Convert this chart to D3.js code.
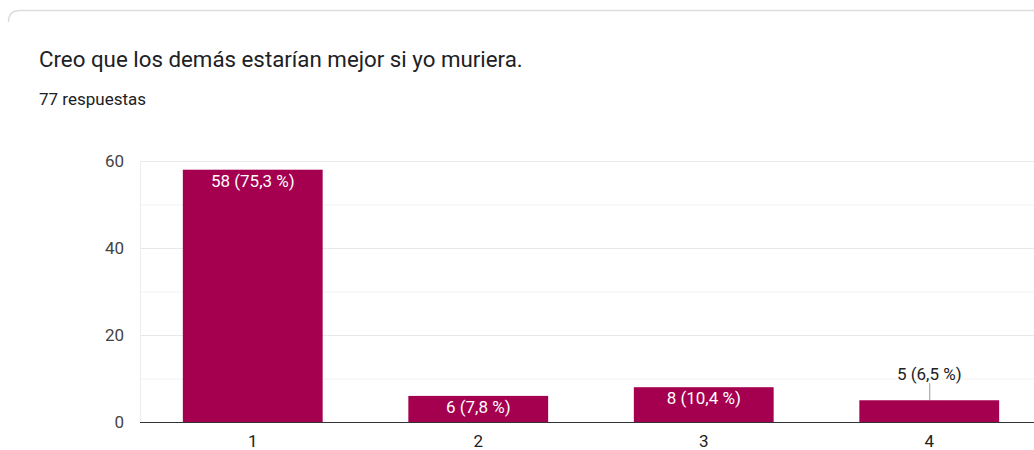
<!DOCTYPE html>
<html>
<head>
<meta charset="utf-8">
<script src="https://cdn.jsdelivr.net/npm/d3@7"></script>
<style>
  body { margin: 0; background: #fff; overflow: hidden; }
  svg { display: block; font-family: Roboto, Arial, sans-serif; }
</style>
</head>
<body>
<div id="chart"></div>
<script>
// Chart data.
const categories = ["1", "2", "3", "4"];
const counts = [58, 6, 8, 5];
const percents = ["75,3", "7,8", "10,4", "6,5"];
const yTicks = [0, 20, 40, 60];
const totalAnswers = 77;

const winW = 1034;
const winH = 450;
const barColor = "#a50050";
const fontSize = 17;

const svg = d3.select("#chart").append("svg")
  .attr("width", winW)
  .attr("height", winH);

// Card outline (top edge with rounded corner).
svg.append("path")
  .attr("d", "M8.5,22 Q8.5,10.5 20,10.5 L1040,10.5")
  .attr("fill", "none")
  .attr("stroke", "#dadce0")
  .attr("stroke-width", 1.5);

svg.append("text")
  .attr("x", 39)
  .attr("y", 67)
  .attr("font-size", 22.3)
  .attr("fill", "#202124")
  .text("Creo que los demás estarían mejor si yo muriera.");

svg.append("text")
  .attr("x", 39)
  .attr("y", 105)
  .attr("font-size", fontSize)
  .attr("fill", "#202124")
  .text(totalAnswers + " respuestas");

const x = d3.scaleBand()
  .domain(categories)
  .range([140, 1042])
  .paddingInner(0.38)
  .paddingOuter(0.19);

const y = d3.scaleLinear()
  .domain([0, 60])
  .range([422, 161]);

// Minor gridlines every 10.
svg.append("g").selectAll("line")
  .data(d3.range(10, 61, 20))
  .join("line")
  .attr("x1", 140).attr("x2", winW)
  .attr("y1", d => y(d) + 0.5).attr("y2", d => y(d) + 0.5)
  .attr("stroke", "#f3f3f3");

// Major gridlines.
svg.append("g").selectAll("line")
  .data(yTicks.filter(d => d > 0))
  .join("line")
  .attr("x1", 140).attr("x2", winW)
  .attr("y1", d => y(d) + 0.5).attr("y2", d => y(d) + 0.5)
  .attr("stroke", "#e8e8e8");

// Left edge of plot.
svg.append("line")
  .attr("x1", 140.5).attr("x2", 140.5)
  .attr("y1", y(60)).attr("y2", y(0))
  .attr("stroke", "#ececec");

// Y axis labels.
const yAxis = d3.axisLeft(y).tickValues(yTicks).tickSize(0).tickPadding(16);
const yG = svg.append("g")
  .attr("transform", "translate(140,0)")
  .call(yAxis);
yG.select(".domain").remove();
yG.selectAll("text")
  .attr("font-size", fontSize)
  .attr("font-family", "Roboto, Arial, sans-serif")
  .attr("fill", "#444");

// Bars.
svg.append("g").selectAll("rect")
  .data(counts)
  .join("rect")
  .attr("x", (d, i) => x(categories[i]))
  .attr("y", d => y(d))
  .attr("width", x.bandwidth())
  .attr("height", d => y(0) - y(d))
  .attr("fill", barColor);

// Baseline.
svg.append("line")
  .attr("x1", 140).attr("x2", winW)
  .attr("y1", y(0) + 0.5).attr("y2", y(0) + 0.5)
  .attr("stroke", "#333")
  .attr("stroke-width", 1.2);

// X axis labels.
const xAxis = d3.axisBottom(x).tickSize(0).tickPadding(13);
const xG = svg.append("g")
  .attr("transform", "translate(0," + y(0) + ")")
  .call(xAxis);
xG.select(".domain").remove();
xG.selectAll("text")
  .attr("font-size", fontSize)
  .attr("font-family", "Roboto, Arial, sans-serif")
  .attr("fill", "#222");

// Value labels: inside bar if it fits, else above with a leader line.
counts.forEach((d, i) => {
  const cx = x(categories[i]) + x.bandwidth() / 2;
  const barH = y(0) - y(d);
  const label = d + " (" + percents[i] + " %)";
  if (barH >= 24) {
    svg.append("text")
      .attr("x", cx)
      .attr("y", y(d) + 17)
      .attr("text-anchor", "middle")
      .attr("font-size", fontSize)
      .attr("fill", "#fff")
      .text(label);
  } else {
    svg.append("line")
      .attr("x1", cx + 0.5).attr("x2", cx + 0.5)
      .attr("y1", y(d) - 17).attr("y2", y(d))
      .attr("stroke", "#999");
    svg.append("text")
      .attr("x", cx)
      .attr("y", y(d) - 20)
      .attr("text-anchor", "middle")
      .attr("font-size", fontSize)
      .attr("fill", "#222")
      .text(label);
  }
});
</script>
</body>
</html>
